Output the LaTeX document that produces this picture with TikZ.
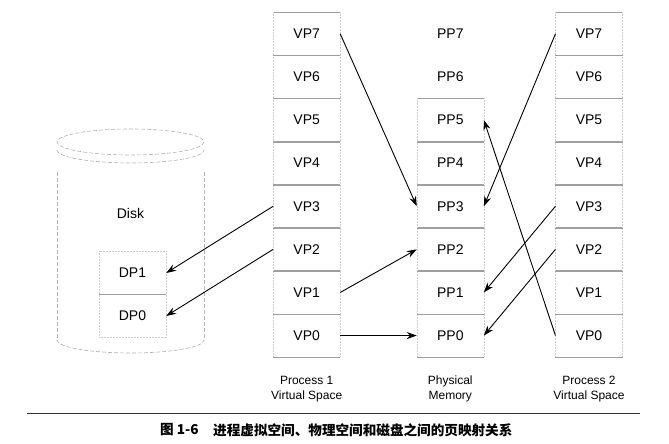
\documentclass[tikz,border=0pt]{standalone}
\usepackage{fontspec}
\setmainfont{Liberation Sans}
\newfontfamily\cjk{Noto Sans CJK SC}
\usetikzlibrary{arrows.meta}
\begin{document}
\begin{tikzpicture}[x=1pt,y=-1pt,
  cell/.style={minimum width=66.7pt, minimum height=43.1pt, inner sep=0pt, font=\fontsize{14}{16}\selectfont},
  hline/.style={draw=gray!75, line width=0.6pt},
  vline/.style={draw=gray!40, line width=0.5pt, densely dotted},
  arr/.style={-{Stealth[length=10pt,width=7pt]}, line width=0.9pt, black},
  lbl/.style={font=\fontsize{12}{15}\selectfont, align=center},
  diskline/.style={draw=gray!60, line width=0.6pt, dash pattern=on 4pt off 2pt},
  captxt/.style={anchor=west, inner sep=0pt, font=\cjk\bfseries\fontsize{13.6}{15}\selectfont}]
\useasboundingbox (0,0) rectangle (669,444);

% columns of pages
\foreach \i in {0,...,7} {
  \pgfmathsetmacro\yy{12.3+43.1*(7-\i)+21.55}
  \node[cell] (a\i) at (306.7,\yy) {VP\i};
  \node[cell] (m\i) at (450.3,\yy) {PP\i};
  \node[cell] (c\i) at (589,\yy) {VP\i};
}
\foreach \n in {a,c} {
  \foreach \i in {0,...,7} {
    \draw[hline] (\n\i.north west) -- (\n\i.north east);
    \draw[hline] (\n\i.south west) -- (\n\i.south east);
    \draw[vline] (\n\i.north west) -- (\n\i.south west);
    \draw[vline] (\n\i.north east) -- (\n\i.south east);
  }
}
\foreach \i in {0,...,5} {
  \draw[hline] (m\i.north west) -- (m\i.north east);
  \draw[hline] (m\i.south west) -- (m\i.south east);
  \draw[vline] (m\i.north west) -- (m\i.south west);
  \draw[vline] (m\i.north east) -- (m\i.south east);
}

% disk
\draw[diskline] (130.5,142) ellipse [x radius=73.5, y radius=13];
\draw[diskline] (57,150) arc[start angle=180, end angle=0, x radius=73.5, y radius=13];
\draw[diskline] (57,172) -- (57,340);
\draw[diskline] (204,172) -- (204,340);
\draw[diskline] (57,340) arc[start angle=180, end angle=0, x radius=73.5, y radius=13];
\node[font=\fontsize{14}{16}\selectfont] (disk) at (130.5,213) {Disk};
\node[cell, minimum width=67pt, minimum height=43pt] (d1) at (132.5,273) {DP1};
\node[cell, minimum width=67pt, minimum height=43pt] (d0) at (132.5,316) {DP0};
\draw[vline] (d1.north west) rectangle (d0.south east);
\draw[hline] (d1.south west) -- (d1.south east);

% mappings
\draw[arr] (a3.west) -- (d1.east);
\draw[arr] (a2.west) -- (d0.east);
\draw[arr] (a7.east) -- (m3.west);
\draw[arr] (a1.east) -- (m2.west);
\draw[arr] (a0.east) -- (m0.west);
\draw[arr] (c7.west) -- (m3.east);
\draw[arr] (c0.west) -- (m5.east);
\draw[arr] (c3.west) -- (m1.east);
\draw[arr] (c2.west) -- (m0.east);

% column labels
\node[lbl] (l1) at (306.7,389) {Process 1\\Virtual Space};
\node[lbl] (l2) at (450.3,389) {Physical\\Memory};
\node[lbl] (l3) at (589,389) {Process 2\\Virtual Space};

% caption
\draw[line width=1pt, black!80] (27,413) -- (640,413);
\node[captxt] (fig) at (160,430) {图 1-6};
\node[captxt] (cap) at (213,430) {进程虚拟空间、物理空间和磁盘之间的页映射关系};
\end{tikzpicture}
\end{document}
